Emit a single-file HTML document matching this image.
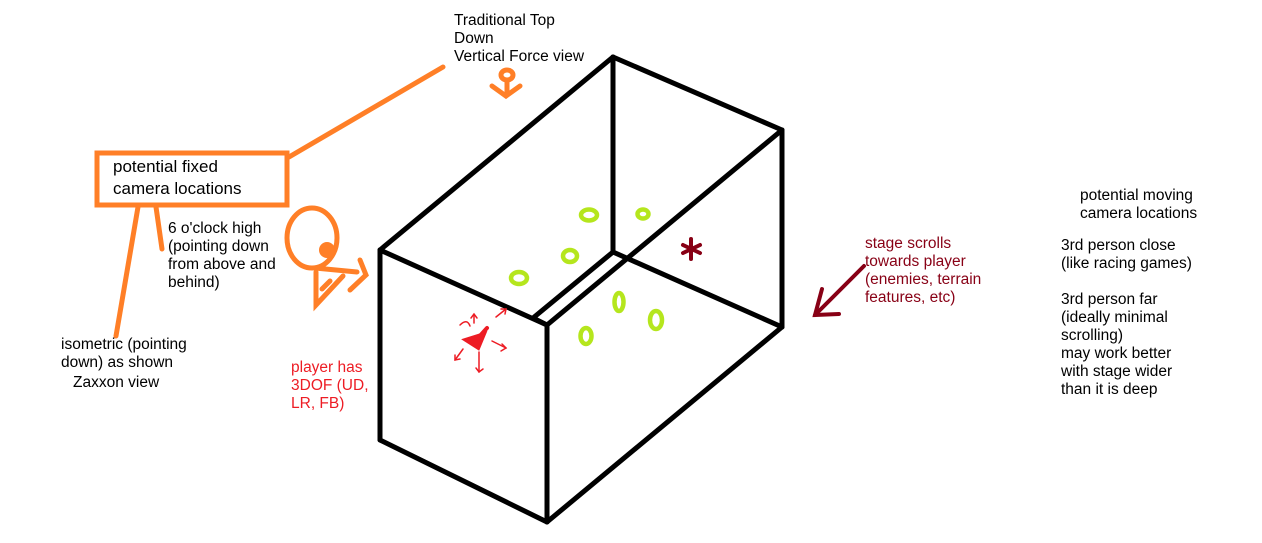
<!DOCTYPE html>
<html><head><meta charset="utf-8"><style>
html,body{margin:0;padding:0;background:#fff;}
svg{display:block;}
text{font-family:"Liberation Sans",Arial,sans-serif;font-size:15.5px;}
</style></head><body>
<svg width="1262" height="543" viewBox="0 0 1262 543" xmlns="http://www.w3.org/2000/svg">
<g stroke="#000" stroke-width="5" fill="none" stroke-linecap="round" stroke-linejoin="round">
<line x1="380" y1="250" x2="613" y2="57"/>
<line x1="613" y1="57" x2="782" y2="130"/>
<line x1="782" y1="130" x2="782" y2="327"/>
<line x1="380" y1="250" x2="380" y2="440"/>
<line x1="380" y1="250" x2="547" y2="325"/>
<line x1="547" y1="325" x2="547" y2="522"/>
<line x1="380" y1="440" x2="547" y2="522"/>
<line x1="547" y1="522" x2="782" y2="327"/>
<line x1="547" y1="325" x2="782" y2="130"/>
<line x1="613" y1="57" x2="613" y2="252"/>
<line x1="613" y1="252" x2="782" y2="327"/>
<polyline points="613,252 533,318 547,325"/>
</g>
<g stroke="#b5e61d" stroke-width="4.5" fill="none">
<ellipse cx="589" cy="215" rx="8" ry="5.5"/>
<ellipse cx="643" cy="214" rx="5.5" ry="4.5"/>
<ellipse cx="570" cy="256" rx="7" ry="6"/>
<ellipse cx="519" cy="278" rx="8" ry="6"/>
<ellipse cx="619" cy="302" rx="4.5" ry="9"/>
<ellipse cx="656" cy="320" rx="6" ry="9"/>
<ellipse cx="586" cy="336" rx="5.5" ry="8"/>
</g>
<g stroke="#880015" stroke-width="4" fill="none" stroke-linecap="round">
<line x1="691" y1="239" x2="691" y2="259"/>
<line x1="683" y1="245" x2="700" y2="253"/>
<line x1="683" y1="253" x2="700" y2="245"/>
<line x1="864" y1="266" x2="815" y2="315"/>
<polyline points="822,289 815,315 839,314"/>
</g>
<g stroke="#ff7f27" stroke-width="5" fill="none" stroke-linecap="round">
<rect x="97" y="153" width="190" height="52"/>
<line x1="289" y1="157" x2="443" y2="67"/>
<line x1="138" y1="207" x2="116" y2="336"/>
<line x1="156" y1="207" x2="162" y2="249"/>
<ellipse cx="312" cy="238" rx="25" ry="30"/>
<polyline points="315,268 357,272"/>
<polyline points="360,260 366,275 350,290"/>
<polyline points="316,272 316,305 343,276"/>
<line x1="322" y1="289" x2="330" y2="281"/>
<ellipse cx="507" cy="75" rx="6" ry="5"/>
<line x1="507" y1="80" x2="507" y2="95"/>
<polyline points="492,86 506,96 520,86"/>
</g>
<circle cx="327" cy="250" r="8" fill="#ff7f27"/>
<g stroke="#ed1c24" fill="none" stroke-linecap="round">
<polygon points="467,340 483,335 478,347" stroke-width="5" fill="#ed1c24"/>
<line x1="478" y1="338" x2="487" y2="328" stroke-width="4"/>
<g stroke-width="1.5">
<line x1="463" y1="349" x2="455" y2="360"/><polyline points="455,355 455,360 460,359"/>
<line x1="496" y1="317" x2="506" y2="309"/><polyline points="501,309 506,309 505,314"/>
<line x1="492" y1="341" x2="506" y2="348"/><polyline points="501,351 506,348 502,344"/>
<line x1="479" y1="352" x2="479" y2="372"/><polyline points="476,368 479,372 483,369"/>
<line x1="474" y1="323" x2="474" y2="315"/><polyline points="471,318 474,314 477,318"/>
<path d="M460 325 Q467 318 470 326"/>
</g>
</g>
<g fill="#000">
<text x="454" y="25">Traditional Top</text>
<text x="454" y="43">Down</text>
<text x="454" y="61">Vertical Force view</text>
<text x="113" y="172" style="font-size:17px">potential fixed</text>
<text x="113" y="194" style="font-size:17px">camera locations</text>
<text x="168" y="233">6 o'clock high</text>
<text x="168" y="251">(pointing down</text>
<text x="168" y="269">from above and</text>
<text x="168" y="287">behind)</text>
<text x="61" y="349">isometric (pointing</text>
<text x="61" y="367">down) as shown</text>
<text x="73" y="387">Zaxxon view</text>
<text x="1080" y="200">potential moving</text>
<text x="1080" y="218">camera locations</text>
<text x="1061" y="250">3rd person close</text>
<text x="1061" y="268">(like racing games)</text>
<text x="1061" y="304">3rd person far</text>
<text x="1061" y="322">(ideally minimal</text>
<text x="1061" y="340">scrolling)</text>
<text x="1061" y="358">may work better</text>
<text x="1061" y="376">with stage wider</text>
<text x="1061" y="394">than it is deep</text>
</g>
<g fill="#880015">
<text x="865" y="248">stage scrolls</text>
<text x="865" y="266">towards player</text>
<text x="865" y="284">(enemies, terrain</text>
<text x="865" y="302">features, etc)</text>
</g>
<g fill="#ed1c24">
<text x="291" y="372">player has</text>
<text x="291" y="390">3DOF (UD,</text>
<text x="291" y="408">LR, FB)</text>
</g>
</svg>
</body></html>
